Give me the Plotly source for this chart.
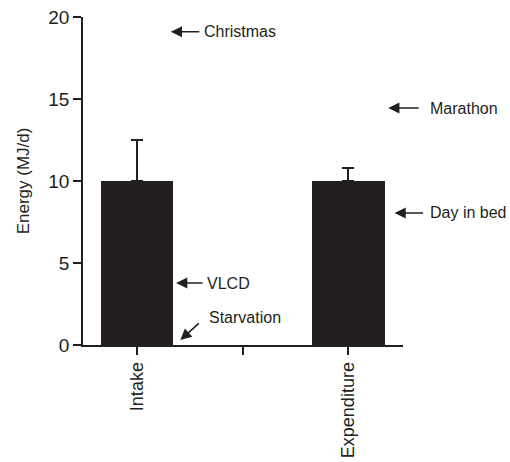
import plotly.graph_objects as go

# Daily energy balance: mean intake vs. expenditure with upper error bars
categories = ["Intake", "Expenditure"]
energy = [10.0, 10.0]
energy_err = [2.5, 0.8]

# Reference points for typical daily energy levels (MJ/d)
ref_labels = ["Christmas", "Marathon", "Day in bed", "VLCD", "Starvation"]
ref_values = [19.1, 14.45, 8.05, 3.78, 0.3]
ref_xpos = [0.16, 1.19, 1.22, 0.185, 0.205]

xpos = list(range(len(categories)))
x_range = [-0.256, 1.26]
ink = "#231f20"
font_family = "Liberation Sans, Arial, sans-serif"


def to_paper(xv):
    return (xv - x_range[0]) / (x_range[1] - x_range[0])


fig = go.Figure()
fig.add_trace(go.Bar(
    x=xpos, y=energy, width=0.345,
    marker=dict(color=ink, line=dict(width=0)),
    error_y=dict(type="data", array=energy_err, arrayminus=[0, 0],
                 symmetric=False, color=ink, thickness=1.8, width=6),
    showlegend=False,
))

# Arrow offsets (pixels, tail relative to tip)
arrow_tail = [(30, 0), (32, 0), (30, 0), (28, 0), (20, -18)]
for lab, val, xp, (dx, dy) in zip(ref_labels, ref_values, ref_xpos, arrow_tail):
    fig.add_annotation(
        x=xp, y=val, xref="x", yref="y", text="",
        showarrow=True, ax=dx, ay=dy, axref="pixel", ayref="pixel",
        arrowhead=2, arrowsize=1.4, arrowwidth=1.6, arrowcolor=ink,
    )

# Label positions (x in data units, converted to paper so they may sit outside the axes)
text_pos = [(0.31, 19.1), (1.38, 14.45), (1.38, 8.05), (0.322, 3.78), (0.33, 1.7)]
for lab, (tx, ty) in zip(ref_labels, text_pos):
    fig.add_annotation(
        x=to_paper(tx), y=ty, xref="paper", yref="y", text=lab, showarrow=False,
        xanchor="left", yanchor="middle",
        font=dict(family=font_family, size=16, color=ink),
    )

fig.update_layout(
    width=510, height=462,
    margin=dict(l=83, r=107, t=17, b=117),
    paper_bgcolor="white", plot_bgcolor="white",
    font=dict(family=font_family, color=ink),
    bargap=0,
)
fig.update_xaxes(
    range=x_range, automargin=False,
    tickvals=[0, 0.5, 1], ticktext=[categories[0], "", categories[1]],
    tickangle=-90, tickfont=dict(size=18, color=ink),
    ticks="outside", ticklen=8, tickwidth=1.8, tickcolor=ink,
    showline=True, linewidth=1.8, linecolor=ink,
    showgrid=False, zeroline=False,
)
fig.update_yaxes(
    range=[0, 20], tickvals=[0, 5, 10, 15, 20], automargin=False,
    tickfont=dict(size=19, color=ink),
    ticks="outside", ticklen=8, tickwidth=1.8, tickcolor=ink,
    showline=True, linewidth=1.8, linecolor=ink,
    showgrid=False, zeroline=False,
    title=dict(text="Energy (MJ/d)", font=dict(size=17, color=ink), standoff=14),
)

fig.write_html("out.html")
